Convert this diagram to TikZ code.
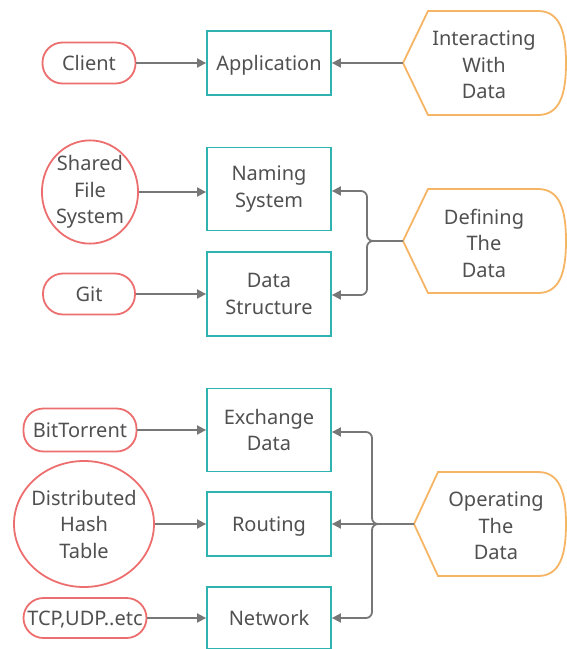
\documentclass[tikz,border=0pt]{standalone}
\usepackage{fontspec}
\setmainfont{Noto Sans}
\usetikzlibrary{arrows.meta,shapes.geometric}
\definecolor{txt}{HTML}{505050}
\definecolor{teal}{HTML}{2EB3B0}
\definecolor{pink}{HTML}{EC6E6E}
\definecolor{amber}{HTML}{F6B465}
\definecolor{wire}{HTML}{777777}
\tikzset{
  lbl/.style={text=txt, font=\fontsize{20}{26.5}\selectfont, align=center, inner sep=0pt},
  oneline/.style={text depth=0pt},
  layer/.style={lbl, draw=teal, line width=1.8pt, minimum width=124pt},
  pill/.style={lbl, oneline, draw=pink, line width=1.8pt, rounded corners=20pt, minimum height=41pt},
  blob/.style={lbl, draw=pink, line width=1.8pt, ellipse},
  banner/.style={draw=amber, line width=1.8pt, fill=white},
  arr/.style={draw=wire, line width=1.8pt, -{Triangle[length=9pt,width=9pt]}}
}
\begin{document}
\begin{tikzpicture}[x=1pt,y=-1pt]
\useasboundingbox (0,0) rectangle (567,649);

% middle column: the layers
\node[layer, oneline, minimum height=64pt] (app) at (269,63) {Application};
\node[layer, minimum height=83pt] (naming) at (269,189) {Naming\\System};
\node[layer, minimum height=84pt] (struct) at (269,294) {Data\\Structure};
\node[layer, minimum height=83pt] (exch) at (269,430) {Exchange\\Data};
\node[layer, oneline, minimum height=64pt] (route) at (269,524) {Routing};
\node[layer, oneline, minimum height=62pt] (net) at (269,618) {Network};

% left column: examples
\node[pill, minimum width=93pt] (client) at (89,63) {Client};
\node[blob, minimum width=94pt, minimum height=97pt, inner sep=0pt] (shared) at (90,192) {Shared\\File\\System};
\node[pill, minimum width=92pt] (git) at (89,294) {Git};
\node[pill, minimum width=113pt, minimum height=43pt] (bt) at (80,430) {BitTorrent};
\node[blob, minimum width=140pt, minimum height=126pt, inner xsep=-4pt] (dht) at (84,524) {Distributed\\Hash\\Table};
\node[pill, minimum width=123pt, minimum height=40pt] (tcp) at (85,618) {TCP,UDP..etc};

% right column: the roles
\draw[banner] (403,63) -- (428,11) -- (538,11) .. controls (560,11) and (566,32) .. (566,63)
  .. controls (566,94) and (560,115) .. (538,115) -- (428,115) -- cycle;
\coordinate (iwd-tip) at (403,63);
\node[lbl] (iwd) at (484,65) {Interacting\\With\\Data};

\draw[banner] (403,241) -- (428,189) -- (538,189) .. controls (560,189) and (566,210) .. (566,241)
  .. controls (566,272) and (560,293) .. (538,293) -- (428,293) -- cycle;
\coordinate (def-tip) at (403,241);
\node[lbl] (def) at (484,243) {Defining\\The\\Data};

\draw[banner] (414,524) -- (438,472) -- (538,472) .. controls (560,472) and (566,493) .. (566,524)
  .. controls (566,555) and (560,576) .. (538,576) -- (438,576) -- cycle;
\coordinate (op-tip) at (414,524);
\node[lbl] (op) at (496,526) {Operating\\The\\Data};

% connectors from the examples
\draw[arr] (client) -- (app);
\draw[arr] (shared.east) -- (naming.west |- shared.east);
\draw[arr] (git) -- (struct);
\draw[arr] (bt) -- (exch);
\draw[arr] (dht) -- (route);
\draw[arr] (tcp) -- (net);

% connectors from the roles
\draw[arr] (iwd-tip) -- (app);
\coordinate (defj) at (367,241);
\draw[arr, rounded corners=6pt] (def-tip) -- (defj) |- ([yshift=-2pt]naming.east);
\draw[arr, rounded corners=6pt] (def-tip) -- (defj) |- ([yshift=-1pt]struct.east);
\coordinate (opj) at (372,524);
\draw[arr, rounded corners=6pt] (op-tip) -- (opj) |- ([yshift=-2pt]exch.east);
\draw[arr] (op-tip) -- (route);
\draw[arr, rounded corners=6pt] (op-tip) -- (opj) |- (net.east);
\end{tikzpicture}
\end{document}
